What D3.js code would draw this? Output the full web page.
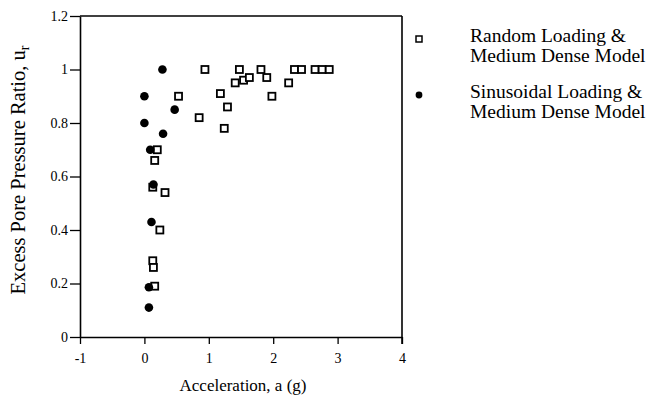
<!DOCTYPE html>
<html><head><meta charset="utf-8">
<script src="https://cdn.jsdelivr.net/npm/d3@7"></script>
<style>body{margin:0;background:#fff}svg{display:block}text{font-family:"Liberation Serif","Times New Roman",serif;fill:#000}</style>
</head><body>
<script>
const randomX = [0.94,0.53,0.85,1.18,1.29,1.24,1.475,1.41,1.54,1.63,1.81,1.90,1.98,2.24,2.33,2.44,2.65,2.76,2.87,0.20,0.16,0.13,0.32,0.24,0.13,0.14,0.16];
const randomY = [1.0,0.90,0.82,0.91,0.86,0.78,1.0,0.95,0.96,0.97,1.0,0.97,0.90,0.95,1.0,1.0,1.0,1.0,1.0,0.70,0.66,0.56,0.54,0.40,0.285,0.26,0.19];
const sinX = [0.28,0.0,0.47,0.0,0.29,0.09,0.14,0.11,0.07,0.07];
const sinY = [1.0,0.90,0.85,0.80,0.76,0.70,0.57,0.43,0.186,0.11];
const xTicks = [-1,0,1,2,3,4];
const yTicks = [0,0.2,0.4,0.6,0.8,1.0,1.2];
const legendLabels = [["Random Loading &","Medium Dense Model"],["Sinusoidal Loading &","Medium Dense Model"]];

const W=651,H=398;
const svg=d3.select("body").append("svg").attr("width",W).attr("height",H);
const x=d3.scaleLinear().domain([-1,4]).range([80,402]);
const y=d3.scaleLinear().domain([0,1.2]).range([337,16]);

const gx=svg.append("g").attr("transform","translate(0,337)")
  .call(d3.axisBottom(x).tickValues(xTicks).tickSize(7).tickSizeOuter(0).tickFormat(d=>String(d)));
const gy=svg.append("g").attr("transform","translate(80,0)")
  .call(d3.axisLeft(y).tickValues(yTicks).tickSize(10).tickSizeOuter(0).tickFormat(d=>String(+d.toFixed(1))));
[gx,gy].forEach(g=>{g.select(".domain").attr("stroke","#000").attr("stroke-width",1.6);
  g.selectAll(".tick line").attr("stroke","#000").attr("stroke-width",1.3);
  g.selectAll("text").style("font-family","'Liberation Serif',serif").style("font-size","14px").attr("fill","#000");});
gx.selectAll("text").attr("y",16).attr("dy","0.71em");
gy.selectAll("text").attr("x",-12);
// frame
svg.append("line").attr("x1",x(-1)).attr("x2",x(4)).attr("y1",y(1.2)).attr("y2",y(1.2)).attr("stroke","#000").attr("stroke-width",1.6);
svg.append("line").attr("x1",x(4)).attr("x2",x(4)).attr("y1",y(1.2)).attr("y2",y(0)+7).attr("stroke","#000").attr("stroke-width",1.6);

const s=7;
svg.append("g").selectAll("rect").data(randomX.map((v,i)=>[v,randomY[i]])).join("rect")
  .attr("x",d=>x(d[0])-s/2).attr("y",d=>y(d[1])-s/2).attr("width",s).attr("height",s)
  .attr("fill","#fff").attr("stroke","#000").attr("stroke-width",1.8);
svg.append("g").selectAll("circle").data(sinX.map((v,i)=>[v,sinY[i]])).join("circle")
  .attr("cx",d=>x(d[0])).attr("cy",d=>y(d[1])).attr("r",4.3).attr("fill","#000");

// axis titles
svg.append("text").attr("x",243).attr("y",391).attr("text-anchor","middle").style("font-size","17px").text("Acceleration, a (g)");
const yl=svg.append("text").attr("transform","translate(25,170) rotate(-90)").attr("text-anchor","middle").style("font-size","20.5px");
yl.append("tspan").text("Excess Pore Pressure Ratio, u");
yl.append("tspan").attr("dy","4").style("font-size","14px").text("r");

// legend
const lg=svg.append("g");
lg.append("rect").attr("x",419-3).attr("y",39-3).attr("width",6).attr("height",6).attr("fill","#fff").attr("stroke","#000").attr("stroke-width",1.5);
lg.append("circle").attr("cx",419).attr("cy",95).attr("r",3.4).attr("fill","#000");
[[42,0],[98,1]].forEach(([yy,i])=>{
  lg.append("text").attr("x",470).attr("y",yy).style("font-size","19.5px").text(legendLabels[i][0]);
  lg.append("text").attr("x",470).attr("y",yy+19.5).style("font-size","19.5px").text(legendLabels[i][1]);
});
</script>
</body></html>
